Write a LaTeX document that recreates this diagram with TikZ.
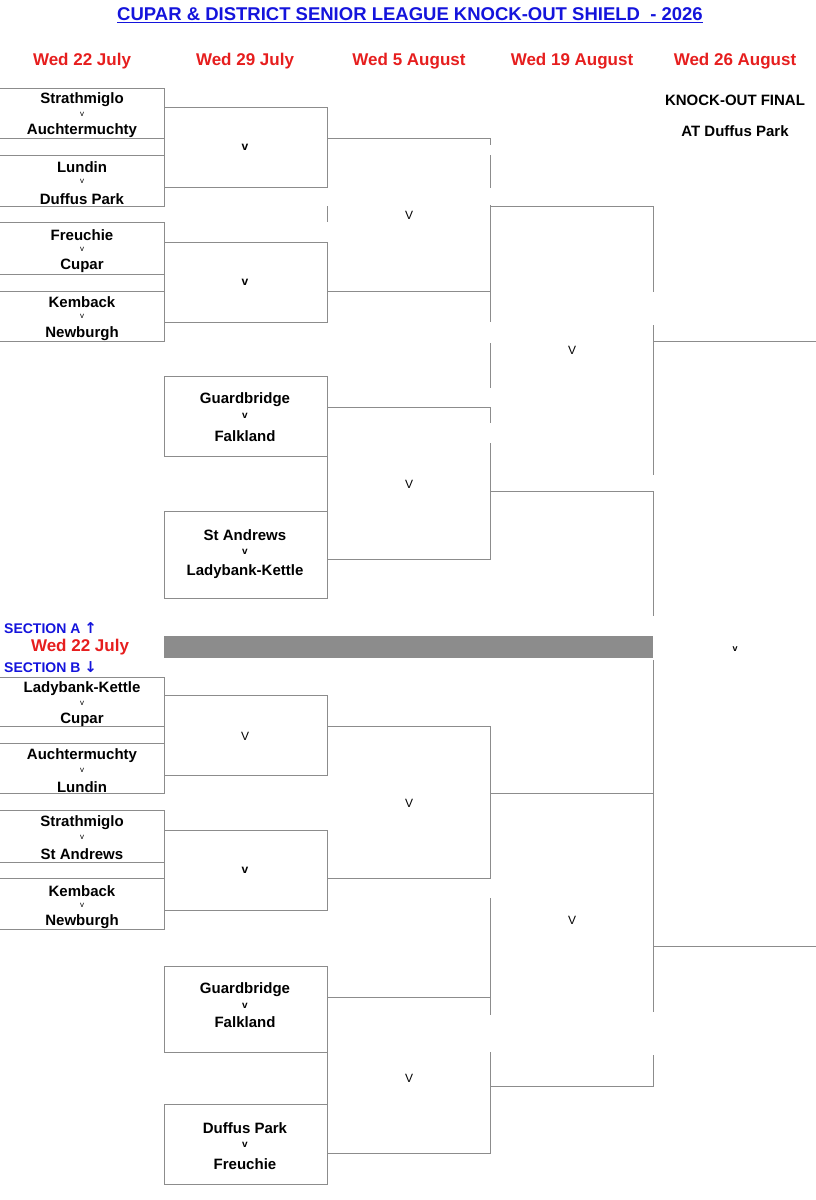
\documentclass[tikz,border=0pt]{standalone}
\usepackage{fontspec}
\setmainfont{Liberation Sans}
\newfontfamily\symf{DejaVu Sans}
\definecolor{hdred}{RGB}{230,30,30}
\definecolor{secblue}{RGB}{20,20,220}
\definecolor{grid}{RGB}{140,140,140}
\begin{document}
\begin{tikzpicture}[x=1pt,y=-1pt,
  ln/.style={draw=grid,line width=1pt},
  team/.style={font=\fontsize{15}{17}\selectfont\bfseries,inner sep=0pt,yshift=-2pt},
  sv/.style={font=\fontsize{8}{9}\selectfont,inner sep=0pt},
  bv/.style={font=\fontsize{10}{12}\selectfont\bfseries,inner sep=0pt},
  pv/.style={font=\fontsize{12}{14}\selectfont,inner sep=0pt},
  hdr/.style={font=\fontsize{17}{19}\selectfont\bfseries,text=hdred,inner sep=0pt},
  sec/.style={font=\fontsize{14}{16}\selectfont\bfseries,text=secblue,inner sep=0pt,anchor=west}]
\useasboundingbox (0,0) rectangle (816,1200);

%Title
\node[font=\fontsize{18.5}{20}\selectfont\bfseries,text=secblue,inner sep=0pt] (title) at (410,15) {\underline{CUPAR \& DISTRICT SENIOR LEAGUE KNOCK-OUT SHIELD\ \ - 2026}};
% Headers
\node[hdr] (h1) at (82,61) {Wed 22 July};
\node[hdr] (h2) at (245,61) {Wed 29 July};
\node[hdr] (h3) at (409,61) {Wed 5 August};
\node[hdr] (h4) at (572,61) {Wed 19 August};
\node[hdr] (h5) at (735,61) {Wed 26 August};
\node[team] (fin) at (735,98) {KNOCK-OUT FINAL};
\node[team] (ven) at (735,129) {AT Duffus Park};

%Section A: first round
\draw[ln] (0,88) -- (164,88) -- (164,206) -- (0,206);
\draw[ln] (0,138) -- (164,138) (0,155) -- (164,155);
\draw[ln] (0,222) -- (164,222) -- (164,341) -- (0,341);
\draw[ln] (0,274) -- (164,274) (0,291) -- (164,291);
%Section A: second round
\draw[ln] (164,107) -- (327,107) -- (327,187) -- (164,187);
\draw[ln] (164,242) -- (327,242) -- (327,322) -- (164,322);
\draw[ln] (327,206) -- (327,222);
\draw[ln] (164,376) rectangle (327,456);
\draw[ln] (164,511) rectangle (327,598);
%Section A: third round
\draw[ln] (327,138) -- (490,138) -- (490,145);
\draw[ln] (490,155) -- (490,188) (490,205) -- (490,322) (490,343) -- (490,388);
\draw[ln] (327,291) -- (490,291);
\draw[ln] (327,407) -- (490,407) -- (490,423) (490,443) -- (490,559) -- (327,559);
\draw[ln] (327,456) -- (327,511);
%Section A: semi
\draw[ln] (490,206) -- (653,206) -- (653,292) (653,325) -- (653,475);
\draw[ln] (490,491) -- (653,491) -- (653,616);
\draw[ln] (653,341) -- (816,341);

%Divider
\fill[grid] (164,636) rectangle (653,658);
\node[sec] (seca) at (4,628) {SECTION A {\symf\bfseries\fontsize{15}{16}\selectfont ↑}};
\node[hdr] (h6) at (80,647) {Wed 22 July};
\node[sec] (secb) at (4,667) {SECTION B {\symf\bfseries\fontsize{15}{16}\selectfont ↓}};
\node[bv,font=\fontsize{9}{10}\selectfont\bfseries] (vfin) at (735,649) {v};

%Section B: first round
\draw[ln] (0,677) -- (164,677) -- (164,793) -- (0,793);
\draw[ln] (0,726) -- (164,726) (0,743) -- (164,743);
\draw[ln] (0,810) -- (164,810) -- (164,929) -- (0,929);
\draw[ln] (0,862) -- (164,862) (0,878) -- (164,878);
%Section B: second round
\draw[ln] (164,695) -- (327,695) -- (327,775) -- (164,775);
\draw[ln] (164,830) -- (327,830) -- (327,910) -- (164,910);
\draw[ln] (164,966) rectangle (327,1052);
\draw[ln] (164,1104) rectangle (327,1184);
\draw[ln] (327,1052) -- (327,1104);
%Section B: third round
\draw[ln] (327,726) -- (490,726) -- (490,878) -- (327,878);
\draw[ln] (327,997) -- (490,997) (490,898) -- (490,1015) (490,1052) -- (490,1153) -- (327,1153);
%Section B: semi
\draw[ln] (490,793) -- (653,793) (653,660) -- (653,1012) (653,1055) -- (653,1086) -- (490,1086);
\draw[ln] (653,946) -- (816,946);

%Teams, section A
\node[team] (a1) at (82,98) {Strathmiglo};
\node[sv] (a1v) at (82,114) {v};
\node[team] (a2) at (82,129) {Auchtermuchty};
\node[team] (a3) at (82,165) {Lundin};
\node[sv] (a3v) at (82,181) {v};
\node[team] (a4) at (82,197) {Duffus Park};
\node[team] (a5) at (82,233) {Freuchie};
\node[sv] (a5v) at (82,249) {v};
\node[team] (a6) at (82,264) {Cupar};
\node[team] (a7) at (82,300) {Kemback};
\node[sv] (a7v) at (82,316) {v};
\node[team] (a8) at (82,332) {Newburgh};
\node[team] (a9) at (245,398) {Guardbridge};
\node[bv] (a9v) at (245,416) {v};
\node[team] (a10) at (245,434) {Falkland};
\node[team] (a11) at (245,533) {St Andrews};
\node[bv] (a11v) at (245,552) {v};
\node[team] (a12) at (245,570) {Ladybank-Kettle};
\node[bv,font=\fontsize{12}{14}\selectfont\bfseries] (va1) at (245,147) {v};
\node[bv,font=\fontsize{12}{14}\selectfont\bfseries] (va2) at (245,282) {v};
\node[pv] (va3) at (409,215) {V};
\node[pv] (va4) at (572,350) {V};
\node[pv] (va5) at (409,484) {V};

%Teams, section B
\node[team] (b1) at (82,687) {Ladybank-Kettle};
\node[sv] (b1v) at (82,703) {v};
\node[team] (b2) at (82,718) {Cupar};
\node[team] (b3) at (82,754) {Auchtermuchty};
\node[sv] (b3v) at (82,770) {v};
\node[team] (b4) at (82,785) {Lundin};
\node[team] (b5) at (82,821) {Strathmiglo};
\node[sv] (b5v) at (82,837) {v};
\node[team] (b6) at (82,852) {St Andrews};
\node[team] (b7) at (82,889) {Kemback};
\node[sv] (b7v) at (82,905) {v};
\node[team] (b8) at (82,920) {Newburgh};
\node[team] (b9) at (245,988) {Guardbridge};
\node[bv] (b9v) at (245,1006) {v};
\node[team] (b10) at (245,1020) {Falkland};
\node[team] (b11) at (245,1126) {Duffus Park};
\node[bv] (b11v) at (245,1145) {v};
\node[team] (b12) at (245,1162) {Freuchie};
\node[pv] (vb1) at (245,736) {V};
\node[pv] (vb2) at (409,803) {V};
\node[bv,font=\fontsize{12}{14}\selectfont\bfseries] (vb3) at (245,870) {v};
\node[pv] (vb4) at (572,920) {V};
\node[pv] (vb5) at (409,1078) {V};
\end{tikzpicture}
\end{document}
